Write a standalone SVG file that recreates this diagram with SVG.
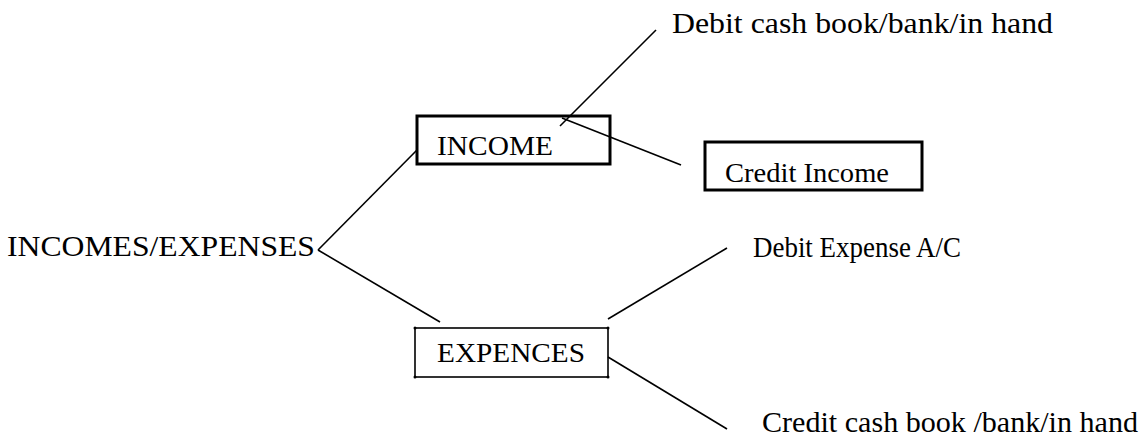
<svg xmlns="http://www.w3.org/2000/svg" width="1147" height="437" viewBox="0 0 1147 437">
<style>
text{font-family:"Liberation Serif","Times New Roman",serif;fill:#000}
.big{font-size:30px}
.box{font-size:27px}
.thick{fill:#fff;stroke:#000;stroke-width:3}
.thin{fill:#fff;stroke:#000;stroke-width:1.6}
.ln{stroke:#000;stroke-width:1.6;fill:none}
</style>
<rect width="1147" height="437" fill="#fff"/>
<g id="node-root"><text class="big" x="7" y="256" textLength="308" lengthAdjust="spacingAndGlyphs">INCOMES/EXPENSES</text></g>
<g id="node-income"><rect class="thick" x="417" y="116" width="193" height="48"/><text class="box" x="437" y="155" textLength="116" lengthAdjust="spacingAndGlyphs">INCOME</text></g>
<g id="node-credit-income"><rect class="thick" x="705" y="142" width="217" height="48"/><text class="box" x="725" y="182" textLength="164" lengthAdjust="spacingAndGlyphs">Credit Income</text></g>
<g id="node-debit-cash"><text class="big" x="672" y="33" textLength="381" lengthAdjust="spacingAndGlyphs">Debit cash book/bank/in hand</text></g>
<g id="node-expences"><rect class="thin" x="415" y="328" width="193" height="49"/>
<circle cx="415" cy="328" r="1.5"/><circle cx="608" cy="328" r="1.5"/><circle cx="415" cy="377" r="1.5"/><circle cx="608" cy="377" r="1.5"/>
<text class="box" x="437" y="362" textLength="148" lengthAdjust="spacingAndGlyphs">EXPENCES</text></g>
<g id="node-debit-expense"><text x="753" y="257" font-size="29" textLength="208" lengthAdjust="spacingAndGlyphs">Debit Expense A/C</text></g>
<g id="node-credit-cash"><text class="big" x="762" y="432" textLength="376" lengthAdjust="spacingAndGlyphs">Credit cash book /bank/in hand</text></g>
<g id="connectors">
<line class="ln" x1="318" y1="250" x2="417" y2="150"/>
<line class="ln" x1="318" y1="250" x2="440" y2="322"/>
<line class="ln" x1="560" y1="126" x2="656" y2="30"/>
<line class="ln" x1="562" y1="118" x2="681" y2="165"/>
<line class="ln" x1="608" y1="319" x2="727" y2="248"/>
<line class="ln" x1="608" y1="357" x2="727" y2="429"/>
</g>
</svg>
